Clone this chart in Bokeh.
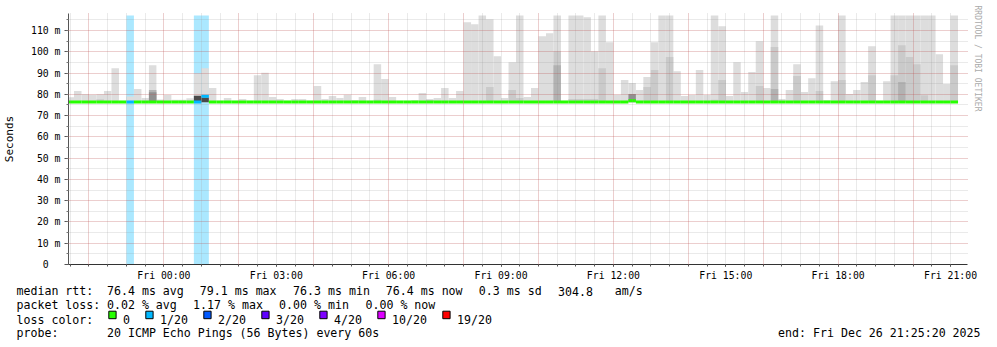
import math
from bokeh.plotting import figure
from bokeh.layouts import column
from bokeh.models import Range1d, FixedTicker, Title
from bokeh.core.properties import value
from bokeh.embed import file_html
from bokeh.resources import INLINE

NAN = float("nan")
FONT = "DejaVu Sans Mono"

# ---------------- data ----------------
# time: hours relative to Fri 00:00, one consolidated step = 12 minutes
FIRST_STEP = -2.6          # Thu 21:24
STEP = 0.2                 # 12 min

# top of the smoke (slowest ping) per step, ms  (graph clips at 117.1)
SMOKE_MAX = [
    78.6, 81.6, 80.0, 79.8, 80.0, 81.6, 92.3, 77.0, 79.0, 82.5,
    78.3, 93.7, 77.6, 79.7, 77.4, 77.4, 78.1, 89.8, 92.3, 83.0,
    77.0, 78.3, 77.0, 77.8, 77.0, 89.0, 90.1, 78.8, 77.8, 77.0,
    77.8, 77.8, 77.0, 83.9, 77.8, 79.2, 78.3, 79.8, 77.3, 78.8,
    77.0, 94.2, 87.2, 78.8, 77.0, 77.0, 77.3, 80.6, 77.8, 78.3,
    83.0, 78.3, 81.6, 113.9, 112.9, 117.1, 115.3, 97.9, 78.3, 95.1,
    117.1, 78.8, 83.0, 107.3, 108.7, 117.1, 77.0, 117.1, 117.1, 116.2,
    100.3, 117.1, 104.5, 79.8, 86.7, 85.3, 82.0, 88.1, 104.5, 117.1,
    117.1, 90.9, 79.2, 79.7, 91.4, 79.7, 117.1, 112.0, 79.2, 95.1,
    81.1, 90.5, 105.0, 83.0, 117.1, 77.8, 82.0, 94.2, 81.1, 87.6,
    112.4, 77.3, 86.2, 117.1, 80.2, 82.0, 85.8, 102.6, 77.0, 86.2,
    117.1, 117.1, 117.1, 117.1, 117.1, 117.1, 98.9, 84.8, 117.1,
]
# inner (darker) smoke layers, only where visible: {step index: top ms}
SMOKE_MID = {4: 77.7, 41: 77.5, 48: 77.3, 56: 83.4, 59: 82.0, 60: 78.3,
             65: 100.3, 67: 77.8, 68: 77.8, 69: 77.8, 70: 77.8, 71: 92.3,
             77: 83.4, 78: 91.4, 80: 97.5, 86: 77.5, 87: 86.7, 92: 83.9,
             94: 102.2, 97: 88.6, 100: 81.6, 103: 86.7, 107: 89.0, 110: 89.0,
             111: 103.1, 112: 97.5, 113: 94.2, 114: 79.6, 118: 93.7}
SMOKE_DARK = {11: 82.0, 65: 93.7, 94: 82.5, 111: 85.8}
SMOKE_DEEP = {11: 81.0, 75: 80.2}
SMOKE_CORE = {17: 79.3, 18: 78.5}
SMOKE_MIN = 76.3

MEDIAN = [
    76.4, 76.4, 76.4, 76.4, 76.4, 76.4, 76.4, 76.4, 76.4, 76.4,
    76.4, 76.4, 76.4, 76.4, 76.4, 76.4, 76.4, 76.4, 79.1, 76.4,
    76.4, 76.4, 76.4, 76.4, 76.4, 76.4, 76.4, 76.4, 76.4, 76.4,
    76.4, 76.4, 76.4, 76.4, 76.4, 76.4, 76.4, 76.4, 76.4, 76.4,
    76.4, 76.4, 76.4, 76.4, 76.4, 76.4, 76.4, 76.4, 76.4, 76.4,
    76.4, 76.4, 76.4, 76.4, 76.4, 76.4, 76.4, 76.4, 76.4, 76.4,
    76.4, 76.4, 76.4, 76.4, 76.4, 76.4, 76.4, 76.4, 76.4, 76.4,
    76.4, 76.4, 76.4, 76.4, 76.4, 77.0, 76.4, 76.4, 76.4, 76.4,
    76.4, 76.4, 76.4, 76.4, 76.4, 76.4, 76.4, 76.4, 76.4, 76.4,
    76.4, 76.4, 76.4, 76.4, 76.4, 76.4, 76.4, 76.4, 76.4, 76.4,
    76.4, 76.4, 76.4, 76.4, 76.4, 76.4, 76.4, 76.4, 76.4, 76.4,
    76.4, 76.4, 76.4, 76.4, 76.4, 76.4, 76.4, 76.4, 76.4,
]
# lost pings out of 20 per step
LOSS = [
    0, 0, 0, 0, 0, 0, 0, 0, 1, 0,
    0, 0, 0, 0, 0, 0, 0, 1, 1, 0,
] + [0] * 99

GRAPH_UPPER = 117.1

LOSS_THRESHOLDS = [0, 1, 2, 3, 4, 10, 19]
LOSS_LABELS = ["0", "1/20", "2/20", "3/20", "4/20", "10/20", "19/20"]
LOSS_COLORS = ["#26ff00", "#00b8ff", "#0059ff", "#5e00ff", "#7e00ff", "#dd00ff", "#ff0000"]

X_TICKS = [0, 3, 6, 9, 12, 15, 18, 21]
X_TICK_LABELS = ["Fri 00:00", "Fri 03:00", "Fri 06:00", "Fri 09:00",
                 "Fri 12:00", "Fri 15:00", "Fri 18:00", "Fri 21:00"]
Y_TICKS = [0, 10, 20, 30, 40, 50, 60, 70, 80, 90, 100, 110]
Y_TICK_LABELS = ["0\u00a0\u00a0", "10 m", "20 m", "30 m", "40 m", "50 m", "60 m",
                 "70 m", "80 m", "90 m", "100 m", "110 m"]

RTT_STATS = ["76.4 ms avg", "79.1 ms max", "76.3 ms min", "76.4 ms now", "0.3 ms sd", "304.8", "am/s"]
LOSS_STATS = ["0.02 % avg", "1.17 % max", "0.00 % min", "0.00 % now"]
PROBE_TEXT = "20 ICMP Echo Pings (56 Bytes) every 60s"
END_TEXT = "end: Fri Dec 26 21:25:20 2025"
WATERMARK = "RRDTOOL / TOBI OETIKER"

# ---------------- helpers ----------------
n = len(SMOKE_MAX)
left = [FIRST_STEP + STEP * i for i in range(n)]
right = [l + STEP for l in left]


def full(d):
    return [d.get(i, NAN) for i in range(n)]


def loss_color(k):
    c = LOSS_COLORS[0]
    for t, col in zip(LOSS_THRESHOLDS, LOSS_COLORS):
        if k >= t:
            c = col
    return c


X0, X1 = -2.547, 21.453
Y0, Y1 = 0.0, 118.0

p = figure(width=997, height=283, x_range=Range1d(X0, X1), y_range=Range1d(Y0, Y1),
           output_backend="svg", toolbar_location=None, title=None,
           min_border_left=67, min_border_right=30, min_border_top=13, min_border_bottom=18)
p.outline_line_color = None
p.background_fill_color = "white"
p.border_fill_color = "white"

# loss background stripes
li = [i for i in range(n) if LOSS[i] > 0]
p.quad(left=[left[i] for i in li], right=[right[i] for i in li],
       bottom=0, top=GRAPH_UPPER,
       fill_color=[loss_color(LOSS[i]) for i in li], fill_alpha=0.33, line_color=None)

# smoke
for vals, col in [(SMOKE_MAX, "#dddddd"), (full(SMOKE_MID), "#cacaca"),
                  (full(SMOKE_DARK), "#b2b2b2"), (full(SMOKE_DEEP), "#909090"),
                  (full(SMOKE_CORE), "#4a4a4a")]:
    p.quad(left=left, right=right, bottom=SMOKE_MIN, top=vals,
           fill_color=col, line_color=None)

# median line coloured by loss
p.segment(x0=left, y0=MEDIAN, x1=right, y1=MEDIAN,
          line_color=[loss_color(k) for k in LOSS], line_width=3, line_cap="butt")

# grids
x_grid_major = list(range(-2, 22, 2))
x_minor = [h / 2 for h in range(-5, 43)]
y_minor = list(range(5, 120, 5))
p.xgrid.ticker = FixedTicker(ticks=x_grid_major, minor_ticks=x_minor)
p.ygrid.ticker = FixedTicker(ticks=Y_TICKS, minor_ticks=y_minor)
for g in (p.xgrid[0], p.ygrid[0]):
    g.grid_line_color = "#ff0000"
    g.grid_line_alpha = 0.24
    g.grid_line_dash = "1 1"
    g.minor_grid_line_color = "#909090"
    g.minor_grid_line_alpha = 0.38
    g.minor_grid_line_dash = "1 1"
    g.level = "overlay"

# axes
xa = p.xaxis[0]
xa.ticker = FixedTicker(ticks=X_TICKS, minor_ticks=x_minor)
xa.major_label_overrides = dict(zip(X_TICKS, X_TICK_LABELS))
xa.major_label_text_font = FONT
xa.major_label_text_font_size = "9.8px"
xa.major_label_text_color = "black"
xa.axis_line_color = "#333333"
xa.major_tick_line_color = "#333333"
xa.minor_tick_line_color = "#555555"
xa.major_tick_in = 0
xa.major_tick_out = 2
xa.minor_tick_in = 0
xa.minor_tick_out = 2
xa.major_label_standoff = 3

ya = p.yaxis[0]
ya.ticker = FixedTicker(ticks=Y_TICKS, minor_ticks=y_minor)
ya.major_label_overrides = dict(zip(Y_TICKS, Y_TICK_LABELS))
ya.major_label_text_font = FONT
ya.major_label_text_font_size = "9.8px"
ya.major_label_text_color = "black"
ya.axis_line_color = "#555555"
ya.major_tick_line_color = "#555555"
ya.minor_tick_line_color = "#777777"
ya.major_tick_in = 0
ya.major_tick_out = 4
ya.minor_tick_in = 0
ya.minor_tick_out = 2
ya.major_label_standoff = 4
ya.axis_label = "Seconds"
ya.axis_label_text_font = FONT
ya.axis_label_text_font_size = "11px"
ya.axis_label_text_font_style = "normal"
ya.axis_label_text_color = "black"
ya.axis_label_standoff = 12

# watermark on the right side (reads top to bottom)
p.add_layout(Title(text=WATERMARK, align="left", vertical_align="bottom",
                   offset=-8, standoff=10,
                   text_font=FONT, text_font_size="8px", text_font_style="normal",
                   text_color="#aaaaaa"), "right")

# ---------------- legend block ----------------
lf = figure(width=997, height=64, x_range=Range1d(0, 997), y_range=Range1d(64, 0),
            output_backend="svg", toolbar_location=None, title=None,
            x_axis_location=None, y_axis_location=None, min_border=0)
if "frame_align" in lf.properties():
    lf.frame_align = False
lf.outline_line_color = None
lf.grid.visible = False
lf.background_fill_color = "white"
lf.border_fill_color = "white"

LSIZE = "11.6px"
CW = 7.0
texts, xs, ys = [], [], []


def add(t, x, y):
    texts.append(t); xs.append(x); ys.append(y)


row = [7.8, 21.8, 36.0, 49.4]
add("median rtt:", 16, row[0])
for t, x in zip(RTT_STATS, [106.5, 199.3, 292.6, 385.3, 478.3, 557.6, 614.3]):
    add(t, x, row[0])
add("packet loss:", 16, row[1])
for t, x in zip(LOSS_STATS, [106.5, 192.6, 278.6, 365.0]):
    add(t, x, row[1])
add("loss color:", 16, row[2])
bx = 108.3
box_l = []
for lab in LOSS_LABELS:
    box_l.append(bx)
    add(lab, bx + 14.3, row[2])
    bx = bx + 15 + len(lab) * CW + 15
add("probe:", 16, row[3])
add(PROBE_TEXT, 106.5, row[3])
add(END_TEXT, 777.6, row[3])

lf.quad(left=box_l, right=[b + 7.3 for b in box_l], top=row[2] - 8.3, bottom=row[2] - 0.8,
        fill_color=LOSS_COLORS, line_color="black", line_width=1)
lf.text(x=xs, y=ys, text=texts, text_font=value(FONT), text_font_size=LSIZE,
        text_color="black", text_baseline="alphabetic", text_align="left")

layout = column(p, lf, spacing=0)
open("out.html", "w").write(file_html(layout, INLINE))
